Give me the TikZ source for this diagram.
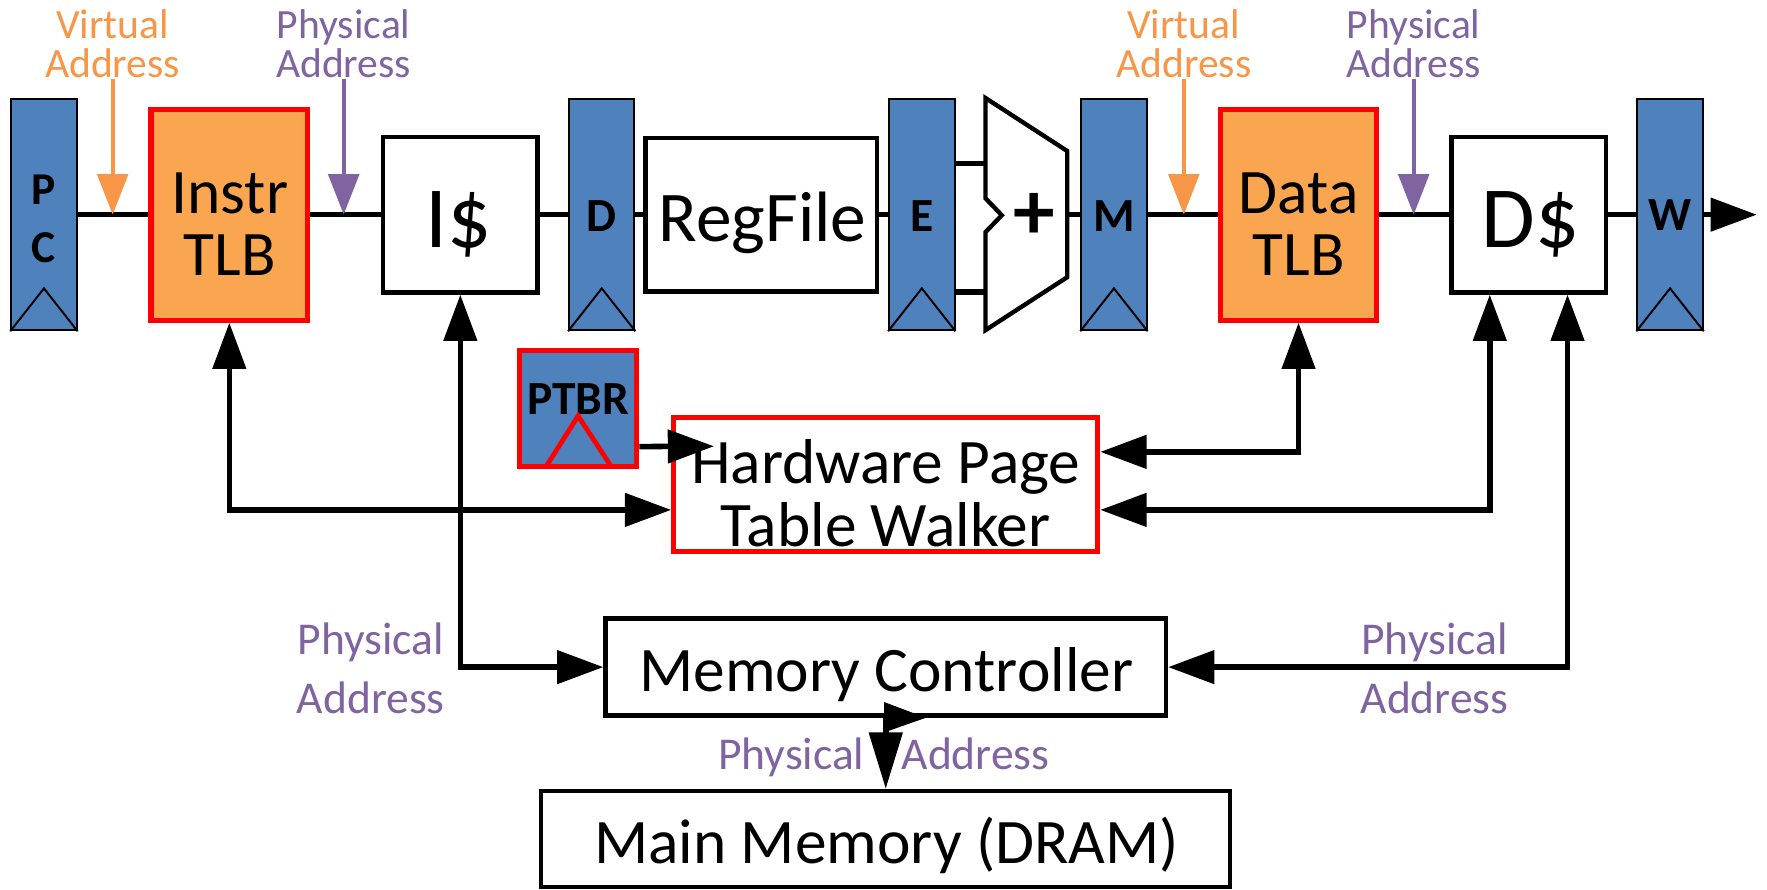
\documentclass[tikz,border=0pt]{standalone}
\usepackage{fontspec}
\setmainfont{Carlito}
\usetikzlibrary{arrows.meta,calc}
\definecolor{regblue}{HTML}{4F81BD}
\definecolor{tlborange}{HTML}{FAA650}
\definecolor{vorange}{HTML}{F79646}
\definecolor{ppurple}{HTML}{8064A2}
\newcommand\mytightlines{\lineskiplimit=-100pt\relax}
\begin{document}
\begin{tikzpicture}[x=0.01cm,y=-0.01cm,
  reg/.style={draw=black, line width=0.5pt, fill=regblue, minimum width=0.58cm, minimum height=2.05cm, inner sep=0pt},
  tlb/.style={draw=red, line width=1.3pt, fill=tlborange, minimum width=1.39cm, minimum height=1.87cm, inner sep=0pt},
  cache/.style={draw=black, line width=1.1pt, fill=white, minimum width=1.37cm, minimum height=1.38cm, inner sep=0pt},
  plainbox/.style={draw=black, line width=1.1pt, fill=white, inner sep=0pt},
  redbox/.style={draw=red, line width=1.3pt, inner sep=0pt},
  txt/.style={inner sep=0pt, align=center},
  tlbtxt/.style={txt, font=\fontsize{16}{15.8}\selectfont},
  bigtxt/.style={txt, font=\fontsize{18}{16}\selectfont},
  cachetxt/.style={txt, font=\fontsize{22}{22}\selectfont},
  midtxt/.style={txt, font=\fontsize{16}{16}\selectfont},
  reglbl/.style={txt, font=\fontsize{12}{14.7}\selectfont\bfseries},
  toplbl/.style={txt, font=\fontsize{10.5}{9.8}\selectfont\mytightlines},
  botlbl/.style={txt, text=ppurple, font=\fontsize{11.5}{14.8}\selectfont\mytightlines},
  conn/.style={line width=1.4pt},
  bigtip/.style={-{Triangle[length=0.41cm,width=0.29cm]}},
  biarrow/.style={conn, {Triangle[length=0.41cm,width=0.29cm]}-{Triangle[length=0.41cm,width=0.29cm]}},
  oarrow/.style={draw=vorange, line width=1.1pt, -{Triangle[length=0.36cm,width=0.27cm]}},
  parrow/.style={draw=ppurple, line width=1.1pt, -{Triangle[length=0.36cm,width=0.27cm]}},
]
\useasboundingbox (0,0) rectangle (1568,789);

% pipeline registers
\node[reg] (pc) at (39,190.5) {};
\node[reg] (dreg) at (534,190.5) {};
\node[reg] (ereg) at (818,190.5) {};
\node[reg] (mreg) at (988.5,190.5) {};
\node[reg] (wreg) at (1482,190.5) {};
\foreach \r in {pc,dreg,ereg,mreg,wreg}
  \draw[line width=0.5pt] (\r.south west) -- ($(\r.south)+(0,-38)$) -- (\r.south east);
\node[reglbl, font=\fontsize{11.5}{14.7}\selectfont\bfseries] (pcT) at (39,194.5) {P\\C};
\node[reglbl, anchor=base] (dT) at (534,205.6) {D};
\node[reglbl, anchor=base] (eT) at (818,205.6) {E};
\node[reglbl, anchor=base] (mT) at (988.5,205.6) {M};
\node[reglbl, anchor=base] (wT) at (1482,204.5) {W};

% TLBs and caches
\node[tlb] (itlb) at (203.5,190.5) {};
\node[tlbtxt] (itlbT) at (204,199) {Instr\\TLB};
\node[cache] (icache) at (408.5,190.5) {};
\node[cachetxt, anchor=base] (icacheT) at (407,220) {I\$};
\node[plainbox, minimum width=2.05cm, minimum height=1.36cm] (regfile) at (675.5,190.5) {};
\node[bigtxt, anchor=base] (regfileT) at (676.6,214.5) {RegFile};
\node[tlb] (dtlb) at (1152.3,190.5) {};
\node[tlbtxt] (dtlbT) at (1152.3,199) {Data\\TLB};
\node[cache] (dcache) at (1356.5,190.5) {};
\node[cachetxt, anchor=base] (dcacheT) at (1358,220) {D\$};

% ALU
\draw[line width=1.1pt, fill=white] (874.5,87) -- (947,134) -- (947,246) -- (874.5,293)
  -- (874.5,206) -- (889,191) -- (874.5,176) -- cycle;
\coordinate (aluA) at (874.5,145);
\coordinate (aluB) at (874.5,259);
\coordinate (aluO) at (947,190.5);
\node[txt, font=\fontsize{21}{21}\selectfont\bfseries] (plus) at (918,192) {+};

% PTBR and walker
\node[redbox, fill=regblue, minimum width=1.04cm, minimum height=1.03cm] (ptbr) at (513,362.3) {};
\node[txt, anchor=base, font=\fontsize{12}{12}\selectfont\bfseries] (ptbrT) at (513,368) {PTBR};
\draw[red, line width=1.2pt] ($(ptbr.south)+(-27.5,-3.5)$) -- ($(ptbr.south)+(0,-47)$) -- ($(ptbr.south)+(28.5,-3.5)$);
\node[redbox, fill=white, minimum width=3.76cm, minimum height=1.185cm] (hptw) at (786,430) {};
\node[midtxt] (hptwT) at (786,437.5) {Hardware Page\\Table Walker};

% memory
\node[plainbox, minimum width=4.97cm, minimum height=0.86cm] (mc) at (786,592) {};
\node[midtxt, anchor=base] (mcT) at (786.5,613.7) {Memory Controller};
\node[plainbox, minimum width=6.11cm, minimum height=0.85cm] (mm) at (786,744.5) {};
\node[midtxt, anchor=base] (mmT) at (786.7,766) {Main Memory (DRAM)};

% address labels
\node[toplbl, text=vorange] (va1) at (100,38.9) {Virtual\\Address};
\node[toplbl, text=ppurple] (pa1) at (305,38.9) {Physical\\Address};
\node[toplbl, text=vorange] (va2) at (1050.5,38.9) {Virtual\\Address};
\node[toplbl, text=ppurple] (pa2) at (1254.5,38.9) {Physical\\Address};
\node[botlbl] (pa3) at (329,593) {Physical\\Address};
\node[botlbl] (pa4) at (1273,593) {Physical\\Address};
\node[txt, text=ppurple, anchor=base, font=\fontsize{11.5}{14.8}\selectfont] (pa5) at (784.3,683) {Physical\hspace{9.4pt}Address};

% main datapath connectors
\draw[conn] (pc) -- (itlb);
\draw[conn] (itlb) -- (icache);
\draw[conn] (icache) -- (dreg);
\draw[conn] (dreg) -- (regfile);
\draw[conn] (regfile) -- (ereg);
\draw[conn] (ereg.east |- aluA) -- (aluA);
\draw[conn] (ereg.east |- aluB) -- (aluB);
\draw[conn] (aluO) -- (mreg);
\draw[conn] (mreg) -- (dtlb);
\draw[conn] (dtlb) -- (dcache);
\draw[conn] (dcache) -- (wreg);
\coordinate (out) at (1559,190.5);
\draw[conn, bigtip] (wreg) -- (out);

% address arrows
\draw[oarrow] (va1.south) -- (va1.south |- pc.center);
\draw[parrow] (pa1.south) -- (pa1.south |- pc.center);
\draw[oarrow] (va2.south) -- (va2.south |- pc.center);
\draw[parrow] (pa2.south) -- (pa2.south |- pc.center);

% miss handling connectors
\draw[biarrow] (itlb.south) |- ($(hptw.west)+(0,22.5)$);
\draw[biarrow] (icache.south) |- (mc.west);
\draw[biarrow] (dtlb.south) |- ($(hptw.east)+(0,-29)$);
\draw[biarrow] ($(dcache.south)+(-34.5,0)$) |- ($(hptw.east)+(0,22.5)$);
\draw[biarrow] ($(dcache.south)+(34.5,0)$) |- (mc.east);
\draw[conn, bigtip] ($(ptbr.east)+(0,34)$) -- ($(hptw.west)+(38,-34)$);
\draw[conn, -{Triangle[length=0.5cm,width=0.29cm]}] (mc.south) -- (mm.north);
\fill ($(mc.south)+(-1.5,-14)$) -- ($(mc.south)+(35.6,0)$) -- ($(mc.south)+(-1.5,13)$) -- cycle;
\end{tikzpicture}
\end{document}
